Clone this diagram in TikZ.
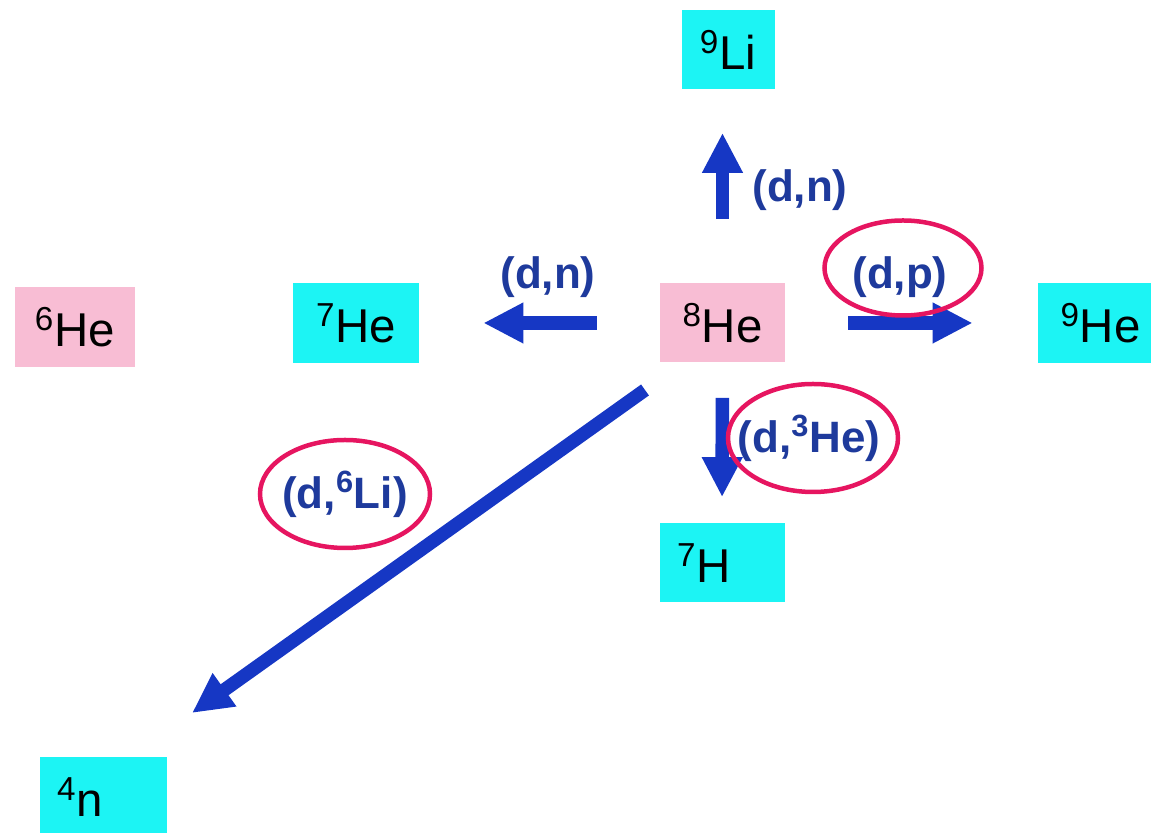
\documentclass[tikz,border=0pt]{standalone}
\usepackage{fontspec}
\setmainfont{Liberation Sans}
\usetikzlibrary{
  arrows.meta,
  calc,
}
\definecolor{boxCyan}{HTML}{1CF4F4}
\definecolor{boxPink}{HTML}{F8BDD4}
\definecolor{arrowBlue}{HTML}{1637C4}
\definecolor{labelBlue}{HTML}{1E3A9C}
\definecolor{ringRed}{HTML}{E61560}
\tikzset{
  nucbox/.style={
    rectangle, fill=boxCyan, minimum width=2.5cm, minimum height=1.58cm,
    inner sep=0pt, font=\fontsize{27}{32}\selectfont, text=black,
  },
  pinkbox/.style={nucbox, fill=boxPink},
  leftbox/.style={nucbox, inner xsep=0.34cm, text width=1.8cm, align=left},
  reaction/.style={arrowBlue, line width=0.27cm, -{Triangle[length=0.8cm, width=0.76cm]}},
  lbl/.style={font=\fontsize{25}{30}\selectfont\bfseries, text=labelBlue, inner sep=0pt},
  ring/.style={draw=ringRed, line width=0.09cm},
}

\begin{document}
\begin{tikzpicture}

  \useasboundingbox (0,0) rectangle (23.02,16.66);

  % Nuclei
  \node[nucbox, minimum width=1.86cm] (li9) at (14.56, 15.66) {\textsuperscript{9}Li};
  \node[pinkbox, minimum width=2.4cm, minimum height=1.6cm] (he6) at (1.50, 10.12) {\textsuperscript{6}He};
  \node[nucbox, minimum width=2.52cm, minimum height=1.6cm] (he7) at (7.12, 10.20) {\textsuperscript{7}He};
  \node[pinkbox] (he8) at (14.45, 10.20) {\textsuperscript{8}He};
  \node[nucbox, minimum height=1.6cm] (he9) at (22.01, 10.20) {\textsuperscript{9}He};
  \node[leftbox] (h7) at (14.44, 5.40) {\textsuperscript{7}H};
  \node[leftbox, text width=1.86cm] (n4) at (2.07, 0.72) {\textsuperscript{4}n};

  % Reactions
  \draw[reaction, shorten <=1.28cm, shorten >=0.86cm] (he8.north) -- (he8.north |- li9.south);
  \draw[reaction, shorten <=1.26cm, shorten >=1.28cm] (he8.west) -- (he7.east);
  \draw[reaction, shorten <=1.26cm, shorten >=1.30cm] (he8.east) -- (he8.east -| he9.west);
  \draw[reaction, shorten <=0.70cm, shorten >=0.52cm] (he8.south) -- (h7.north);
  \coordinate (dstart) at (12.90, 8.86);
  \coordinate (dtip) at (3.84, 2.40);
  \draw[reaction] (dstart) -- (dtip);

  % Labels
  \node[lbl] (up) at (16.00, 12.86) {(d,n)};
  \node[lbl] (left) at (10.96, 11.12) {(d,n)};
  \node[lbl] (right) at (18.00, 11.12) {(d,p)};
  \node[lbl] (down) at (16.18, 7.90) {(d,\textsuperscript{3}He)};
  \node[lbl] (diag) at (6.90, 6.78) {(d,\textsuperscript{6}Li)};

  % Rings
  \draw[ring] ($(right)+(0.06,0.18)$) ellipse [x radius=1.57cm, y radius=0.95cm];
  \draw[ring] ($(down)+(0.08,0)$) ellipse [x radius=1.7cm, y radius=1.08cm];
  \draw[ring] (diag) ellipse [x radius=1.7cm, y radius=1.08cm];

\end{tikzpicture}
\end{document}
